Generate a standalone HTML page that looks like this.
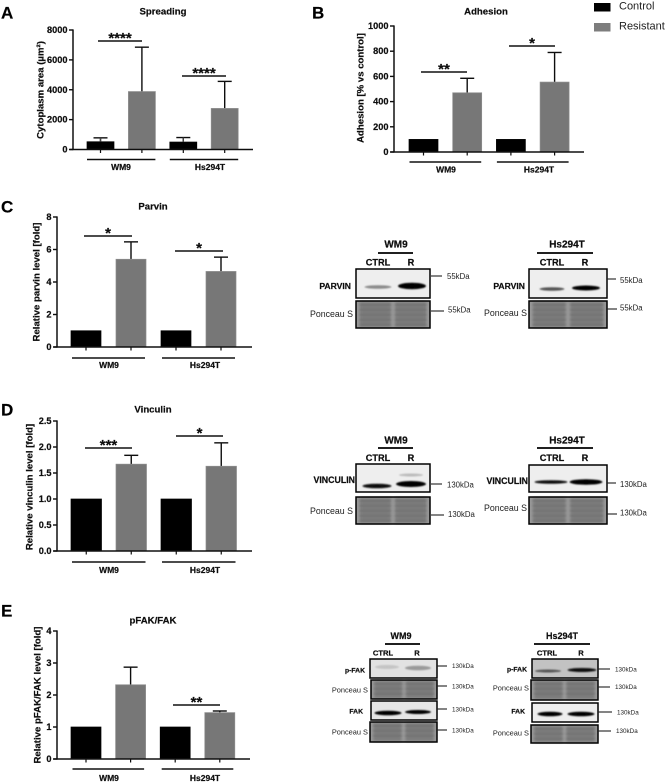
<!DOCTYPE html>
<html lang="en">
<head>
<meta charset="utf-8">
<title>Spreading, adhesion and protein levels</title>
<style>
html,body{margin:0;padding:0;background:#fff;width:669px;height:782px;overflow:hidden}
svg{display:block}
text{font-family:"Liberation Sans",sans-serif;fill:#111}
text[font-weight="bold"]{stroke:#111;stroke-width:0.22px}
</style>
</head>
<body>
<svg id="figure" xmlns="http://www.w3.org/2000/svg" width="669" height="782" viewBox="0 0 669 782">
  <defs>
    <filter id="soft" x="-2%" y="-2%" width="104%" height="104%"><feGaussianBlur stdDeviation="0.3"/></filter>
    <filter id="bandBlur" x="-30%" y="-150%" width="160%" height="400%"><feGaussianBlur stdDeviation="0.9"/></filter>
    <filter id="laneBlur" x="-20%" y="-20%" width="140%" height="140%"><feGaussianBlur stdDeviation="1.2"/></filter>
  </defs>
  <g id="root" filter="url(#soft)"></g>
</svg>
<script>
// ---------- chart data ----------
const groupLabels = ['WM9', 'Hs294T'];

const spreadingTicks = [0, 2000, 4000, 6000, 8000];
const spreadingControl = [520, 500];
const spreadingResistant = [3880, 2750];
const spreadingControlError = [780, 800];
const spreadingResistantError = [6850, 4560];
const spreadingStars = ['****', '****'];

const adhesionTicks = [0, 200, 400, 600, 800, 1000];
const adhesionControl = [100, 100];
const adhesionResistant = [470, 555];
const adhesionControlError = [100, 100];
const adhesionResistantError = [585, 790];
const adhesionStars = ['**', '*'];

const parvinTicks = [0, 2, 4, 6, 8];
const parvinControl = [1, 1];
const parvinResistant = [5.4, 4.65];
const parvinControlError = [1, 1];
const parvinResistantError = [6.47, 5.53];
const parvinStars = ['*', '*'];

const vinculinTicks = ['0.0', '0.5', '1.0', '1.5', '2.0', '2.5'];
const vinculinControl = [1, 1];
const vinculinResistant = [1.67, 1.63];
const vinculinControlError = [1, 1];
const vinculinResistantError = [1.84, 2.08];
const vinculinStars = ['***', '*'];

const pfakTicks = [0, 1, 2, 3, 4];
const pfakControl = [1, 1];
const pfakResistant = [2.32, 1.45];
const pfakControlError = [1, 1];
const pfakResistantError = [2.87, 1.5];
const pfakStars = ['', '**'];

const legendLabels = ['Control', 'Resistant'];

// ---------- helpers ----------
const SVGNS = 'http://www.w3.org/2000/svg';
const root = document.getElementById('root');

function make(parent, tag, attrs, content) {
  const el = document.createElementNS(SVGNS, tag);
  for (const k in attrs) el.setAttribute(k, attrs[k]);
  if (content !== undefined) el.textContent = content;
  parent.appendChild(el);
  return el;
}
function group(parent, name) {
  const g = make(parent, 'g', {});
  
  
  return g;
}
function line(parent, name, x1, y1, x2, y2, w, color) {
  const el = make(parent, 'line', {x1: x1, y1: y1, x2: x2, y2: y2, stroke: color || '#111', 'stroke-width': w || 1.3});
  
  
  return el;
}
function label(parent, name, x, y, str, size, weight, anchor, color) {
  const el = make(parent, 'text', {x: x, y: y, 'font-size': size, 'font-weight': weight || 'bold', 'text-anchor': anchor || 'middle', 'dominant-baseline': 'central'}, str);
  if (color) el.style.fill = color;
  
  
  return el;
}

// ---------- bar chart ----------
function drawChart(cfg) {
  const g = group(root, cfg.name + '-chart');
  const yScale = v => cfg.y0 - (parseFloat(v) / parseFloat(cfg.ticks[cfg.ticks.length - 1])) * (cfg.y0 - cfg.yTop);
  const xScale = i => cfg.x0 + i * cfg.step;

  label(g, cfg.name + '-panel-letter', cfg.letterX, cfg.letterY, cfg.letter, 17, 'bold', 'start', '#000');
  label(g, cfg.name + '-title', cfg.titleX, cfg.titleY, cfg.title, 9.6);
  const yt = label(g, cfg.name + '-y-axis-title', 0, 0, cfg.yTitle, 9.6);
  yt.setAttribute('transform', 'translate(' + cfg.yTitleX + ',' + cfg.yTitleY + ') rotate(-90)');

  // bars, whiskers, ticks
  for (let gi = 0; gi < groupLabels.length; gi++) {
    const sets = [
      {val: cfg.control[gi], err: cfg.controlErr[gi], fill: '#000', edge: '#000', kind: 'control'},
      {val: cfg.resistant[gi], err: cfg.resistantErr[gi], fill: '#777', edge: '#8e8e8e', kind: 'resistant'}
    ];
    sets.forEach((s, si) => {
      const left = xScale(gi * 2 + si);
      const mid = left + cfg.barW / 2;
      const top = yScale(s.val);
      if (s.err > s.val) {
        line(g, cfg.name + '-error-stem', mid, top, mid, yScale(s.err), 1.4);
        line(g, cfg.name + '-error-cap', mid - cfg.cap / 2, yScale(s.err), mid + cfg.cap / 2, yScale(s.err), 1.4);
      }
      const bar = make(g, 'rect', {x: left, y: top, width: cfg.barW, height: cfg.y0 - top, fill: s.fill, stroke: s.edge, 'stroke-width': 0.7});
      
      
      if (s.err > s.val && s.kind === 'control') {
        line(g, cfg.name + '-error-stem', mid, top, mid, yScale(s.err), 1.3, '#444');
      }
      line(g, cfg.name + '-x-tick', mid, cfg.y0, mid, cfg.y0 + 3.5, 1.2);
    });

    // group bracket + label
    const gl = xScale(gi * 2) + cfg.groupInset;
    const gr = xScale(gi * 2 + 1) + cfg.barW - cfg.groupInset;
    line(g, cfg.name + '-group-line', gl, cfg.groupY, gr, cfg.groupY, 1.4);
    label(g, cfg.name + '-group-label', cfg.groupLabelX[gi], cfg.groupLabelY, groupLabels[gi], 8.5);

    // significance
    if (cfg.stars[gi]) {
      const sx = cfg.sigX[gi];
      line(g, cfg.name + '-significance-line', sx, cfg.sigY[gi], sx + cfg.sigW, cfg.sigY[gi], 1.4);
      const st = make(g, 'text', {x: sx + cfg.sigW / 2, y: cfg.sigY[gi] + 2, 'font-size': 15, 'font-weight': 'bold', 'text-anchor': 'middle'}, cfg.stars[gi]);
      
      
    }
  }

  // axes
  line(g, cfg.name + '-y-axis', cfg.axisX, cfg.yTop - 0.6, cfg.axisX, cfg.y0 + 0.6, 1.5);
  line(g, cfg.name + '-x-axis', cfg.axisX - 3.5, cfg.y0, cfg.axisEnd, cfg.y0, 1.5);
  cfg.ticks.forEach(t => {
    const y = yScale(t);
    line(g, cfg.name + '-y-tick', cfg.axisX - 4, y, cfg.axisX, y, 1.4);
    label(g, cfg.name + '-y-tick-label', cfg.axisX - 5.5, y, String(t), 9.2, 'bold', 'end');
  });
}

drawChart({name: 'spreading', letter: 'A', letterX: 1, letterY: 13, title: 'Spreading', titleX: 163, titleY: 12,
  yTitle: 'Cytoplasm area (\u00b5m\u00b2)', yTitleX: 41, yTitleY: 90,
  ticks: spreadingTicks, control: spreadingControl, resistant: spreadingResistant,
  controlErr: spreadingControlError, resistantErr: spreadingResistantError, stars: spreadingStars,
  axisX: 73, axisEnd: 253, y0: 149.5, yTop: 30, x0: 87, step: 41.4, barW: 27, cap: 14,
  groupInset: 0, groupY: 159.5, groupLabelX: [121, 210], groupLabelY: 167,
  sigX: [98, 182], sigY: [41, 76], sigW: 44});

drawChart({name: 'adhesion', letter: 'B', letterX: 312, letterY: 13, title: 'Adhesion', titleX: 486, titleY: 12,
  yTitle: 'Adhesion [% vs control]', yTitleX: 361, yTitleY: 88,
  ticks: adhesionTicks, control: adhesionControl, resistant: adhesionResistant,
  controlErr: adhesionControlError, resistantErr: adhesionResistantError, stars: adhesionStars,
  axisX: 394, axisEnd: 584, y0: 152, yTop: 26, x0: 409, step: 43.7, barW: 29, cap: 14,
  groupInset: 0.5, groupY: 162, groupLabelX: [446, 539], groupLabelY: 169.5,
  sigX: [421, 509], sigY: [72, 46], sigW: 46});

drawChart({name: 'parvin', letter: 'C', letterX: 1, letterY: 207, title: 'Parvin', titleX: 153, titleY: 207,
  yTitle: 'Relative parvin level [fold]', yTitleX: 37, yTitleY: 282,
  ticks: parvinTicks, control: parvinControl, resistant: parvinResistant,
  controlErr: parvinControlError, resistantErr: parvinResistantError, stars: parvinStars,
  axisX: 57, axisEnd: 252, y0: 347, yTop: 217, x0: 71, step: 45, barW: 30, cap: 14,
  groupInset: 1, groupY: 358, groupLabelX: [109, 205], groupLabelY: 365,
  sigX: [84, 175], sigY: [236, 251], sigW: 48});

drawChart({name: 'vinculin', letter: 'D', letterX: 1, letterY: 410, title: 'Vinculin', titleX: 153, titleY: 410,
  yTitle: 'Relative vinculin level [fold]', yTitleX: 30, yTitleY: 487,
  ticks: vinculinTicks, control: vinculinControl, resistant: vinculinResistant,
  controlErr: vinculinControlError, resistantErr: vinculinResistantError, stars: vinculinStars,
  axisX: 57, axisEnd: 252, y0: 551, yTop: 421, x0: 71, step: 45, barW: 30.5, cap: 14,
  groupInset: 1, groupY: 562, groupLabelX: [109, 205], groupLabelY: 570,
  sigX: [85, 176], sigY: [448, 436], sigW: 47});

drawChart({name: 'pfak', letter: 'E', letterX: 1, letterY: 611, title: 'pFAK/FAK', titleX: 153, titleY: 621,
  yTitle: 'Relative pFAK/FAK level [fold]', yTitleX: 38, yTitleY: 695,
  ticks: pfakTicks, control: pfakControl, resistant: pfakResistant,
  controlErr: pfakControlError, resistantErr: pfakResistantError, stars: pfakStars,
  axisX: 57, axisEnd: 250, y0: 759, yTop: 631, x0: 71, step: 44.6, barW: 30, cap: 14,
  groupInset: 1.5, groupY: 769, groupLabelX: [109, 205], groupLabelY: 778,
  sigX: [173, 173], sigY: [705, 705], sigW: 47});

// ---------- legend ----------
const legend = group(root, 'legend');
legendLabels.forEach((name, i) => {
  const y = 3 + i * 20;
  const swatch = make(legend, 'rect', {x: 594, y: y, width: 16.5, height: 8.5, fill: i === 0 ? '#000' : '#7d7d7d'});
  
  
  label(legend, 'legend-label-' + name.toLowerCase(), 619, y + 3.5, name, 11, 'normal', 'start', '#222');
});

// ---------- western blots ----------
function blotFrame(parent, name, x1, y1, x2, y2, bg) {
  const r = make(parent, 'rect', {x: x1, y: y1, width: x2 - x1, height: y2 - y1, fill: bg});
  
  
}
function blotBorder(parent, name, x1, y1, x2, y2) {
  const r = make(parent, 'rect', {x: x1, y: y1, width: x2 - x1, height: y2 - y1, fill: 'none', stroke: '#000', 'stroke-width': 1.5});
  
  
}
function bandBlot(parent, name, x1, y1, x2, y2, bands, bg) {
  const g = group(parent, name);
  blotFrame(g, name + '-background', x1, y1, x2, y2, bg || '#eeeeee');
  bands.forEach(b => {
    const e = make(g, 'ellipse', {cx: b[0], cy: b[2], rx: b[1] / 2, ry: b[3] / 2, fill: b[4], filter: 'url(#bandBlur)'});
    
    
  });
  blotBorder(g, name + '-border', x1, y1, x2, y2);
}
function ponceau(parent, name, x1, y1, x2, y2) {
  const g = group(parent, name);
  blotFrame(g, name + '-background', x1, y1, x2, y2, '#989898');
  const w = x2 - x1;
  const laneW = w * 0.42;
  [x1 + w * 0.05, x1 + w * 0.53].forEach(lx => {
    const lane = make(g, 'rect', {x: lx, y: y1 + 1, width: laneW, height: y2 - y1 - 2, fill: '#7a7a7a', filter: 'url(#laneBlur)'});
    
    
    for (let yy = y1 + 3; yy < y2 - 2; yy += 5) {
      const s = make(g, 'rect', {x: lx, y: yy, width: laneW, height: 1.4, fill: '#6e6e6e', filter: 'url(#laneBlur)'});
      
      
    }
  });
  blotBorder(g, name + '-border', x1, y1, x2, y2);
}
function marker(parent, name, x1, x2, y, tx, ty, str, size) {
  line(parent, name + '-marker', x1, y, x2, y, 1.1, '#222');
  label(parent, name + '-size-label', tx, ty, str, size, 'normal', 'start', '#222');
}
function header(parent, name, title, cx, ty, lx1, lx2, ly, cX, rX, cY, size, ctrlSize) {
  label(parent, name + '-title', cx, ty, title, size);
  line(parent, name + '-line', lx1, ly, lx2, ly, 1.7, '#000');
  label(parent, name + '-ctrl-label', cX, cY, 'CTRL', ctrlSize);
  label(parent, name + '-r-label', rX, cY, 'R', ctrlSize);
}

// Parvin blots
const pw = group(root, 'parvin-blot-wm9');
header(pw, 'parvin-wm9', 'WM9', 396, 245, 378, 413, 253, 378, 411, 262.5, 10, 9.2);
label(pw, 'parvin-wm9-label', 351, 286, 'PARVIN', 8.6, 'bold', 'end');
label(pw, 'parvin-wm9-ponceau-label', 353, 314, 'Ponceau S', 8.8, 'normal', 'end', '#222');
bandBlot(pw, 'parvin-wm9-blot', 356, 269, 430, 298, [[378, 27, 287, 3.5, '#8a8a8a'], [412, 28, 286, 6.5, '#000']]);
ponceau(pw, 'parvin-wm9-ponceau', 356, 301, 430, 328);
marker(pw, 'parvin-wm9', 431, 442, 276, 447, 276.5, '55kDa', 7.8);
marker(pw, 'parvin-wm9-ponceau', 431, 444, 311, 448, 310, '55kDa', 7.8);

const ph = group(root, 'parvin-blot-hs294t');
header(ph, 'parvin-hs294t', 'Hs294T', 567, 245, 537, 593, 253, 552, 585, 262.5, 10, 9.2);
label(ph, 'parvin-hs294t-label', 525, 286, 'PARVIN', 8.6, 'bold', 'end');
label(ph, 'parvin-hs294t-ponceau-label', 527, 313, 'Ponceau S', 8.8, 'normal', 'end', '#222');
bandBlot(ph, 'parvin-hs294t-blot', 529, 269, 607, 298, [[552, 25, 289, 3.5, '#555'], [586, 28, 288, 5, '#000']]);
ponceau(ph, 'parvin-hs294t-ponceau', 529, 301, 607, 328);
marker(ph, 'parvin-hs294t', 607, 616, 279, 620, 280.5, '55kDa', 7.8);
marker(ph, 'parvin-hs294t-ponceau', 607, 617, 309, 620, 308, '55kDa', 7.8);

// Vinculin blots
const vw = group(root, 'vinculin-blot-wm9');
header(vw, 'vinculin-wm9', 'WM9', 396, 441, 378, 413, 448, 378, 411, 458, 10, 9.2);
label(vw, 'vinculin-wm9-label', 355, 480, 'VINCULIN', 8.8, 'bold', 'end');
label(vw, 'vinculin-wm9-ponceau-label', 353, 511, 'Ponceau S', 8.8, 'normal', 'end', '#222');
bandBlot(vw, 'vinculin-wm9-blot', 356, 464, 430, 492, [[377, 29, 486, 4.5, '#111'], [411, 30, 484, 6, '#000'], [411, 24, 475, 3, '#bbb']]);
ponceau(vw, 'vinculin-wm9-ponceau', 356, 497, 430, 524);
marker(vw, 'vinculin-wm9', 431, 442, 484, 447, 485, '130kDa', 7.8);
marker(vw, 'vinculin-wm9-ponceau', 431, 444, 515, 448, 514.5, '130kDa', 7.8);

const vh = group(root, 'vinculin-blot-hs294t');
header(vh, 'vinculin-hs294t', 'Hs294T', 567, 441, 537, 593, 448, 552, 585, 458, 10, 9.2);
label(vh, 'vinculin-hs294t-label', 528, 481, 'VINCULIN', 8.8, 'bold', 'end');
label(vh, 'vinculin-hs294t-ponceau-label', 527, 508, 'Ponceau S', 8.8, 'normal', 'end', '#222');
bandBlot(vh, 'vinculin-hs294t-blot', 529, 465, 607, 492, [[551, 33, 482, 3.6, '#111'], [586, 33, 482, 5.5, '#000']]);
ponceau(vh, 'vinculin-hs294t-ponceau', 529, 497, 607, 524);
marker(vh, 'vinculin-hs294t', 607, 616, 483, 620, 484.5, '130kDa', 7.8);
marker(vh, 'vinculin-hs294t-ponceau', 607, 617, 514, 620, 513, '130kDa', 7.8);

// pFAK blots
const fw = group(root, 'pfak-blot-wm9');
header(fw, 'pfak-wm9', 'WM9', 401, 636, 385, 420, 644, 383, 417, 653, 9, 7.6);
label(fw, 'pfak-wm9-pfak-label', 365, 671, 'p-FAK', 6.8, 'bold', 'end');
label(fw, 'pfak-wm9-ponceau-1-label', 368, 690, 'Ponceau S', 7.4, 'normal', 'end', '#222');
label(fw, 'pfak-wm9-fak-label', 363, 712, 'FAK', 6.8, 'bold', 'end');
label(fw, 'pfak-wm9-ponceau-2-label', 368, 732, 'Ponceau S', 7.4, 'normal', 'end', '#222');
bandBlot(fw, 'pfak-wm9-pfak-blot', 370, 659, 437, 678, [[387, 24, 667, 4, '#c4c4c4'], [418, 26, 668, 4.5, '#9a9a9a']], '#e2e2e2');
ponceau(fw, 'pfak-wm9-ponceau-1', 371, 680, 437, 699);
bandBlot(fw, 'pfak-wm9-fak-blot', 371, 701, 437, 720, [[388, 27, 713, 4.5, '#000'], [418, 26, 712, 4, '#000']], '#e6e6e6');
ponceau(fw, 'pfak-wm9-ponceau-2', 370, 722, 437, 742);
marker(fw, 'pfak-wm9-pfak', 437, 447, 666, 452, 666.5, '130kDa', 6.3);
marker(fw, 'pfak-wm9-ponceau-1', 437, 447, 686, 452, 687, '130kDa', 6.3);
marker(fw, 'pfak-wm9-fak', 437, 447, 709, 452, 710, '130kDa', 6.3);
marker(fw, 'pfak-wm9-ponceau-2', 437, 447, 730, 452, 731, '130kDa', 6.3);

const fh = group(root, 'pfak-blot-hs294t');
header(fh, 'pfak-hs294t', 'Hs294T', 562, 636, 534, 590, 644, 547, 581, 653, 9, 7.6);
label(fh, 'pfak-hs294t-pfak-label', 527, 670, 'p-FAK', 6.8, 'bold', 'end');
label(fh, 'pfak-hs294t-ponceau-1-label', 529, 688, 'Ponceau S', 7.4, 'normal', 'end', '#222');
label(fh, 'pfak-hs294t-fak-label', 525, 712, 'FAK', 6.8, 'bold', 'end');
label(fh, 'pfak-hs294t-ponceau-2-label', 529, 733, 'Ponceau S', 7.4, 'normal', 'end', '#222');
bandBlot(fh, 'pfak-hs294t-pfak-blot', 532, 659, 598, 678, [[548, 26, 671, 3, '#555'], [582, 29, 670, 4, '#111']], '#c2c2c2');
ponceau(fh, 'pfak-hs294t-ponceau-1', 531, 680, 598, 700);
bandBlot(fh, 'pfak-hs294t-fak-blot', 532, 703, 598, 722, [[550, 25, 714, 4.5, '#000'], [581, 27, 714, 4.5, '#000']], '#eeeeee');
ponceau(fh, 'pfak-hs294t-ponceau-2', 531, 725, 598, 743);
marker(fh, 'pfak-hs294t-pfak', 598, 610, 669, 615, 670, '130kDa', 6.3);
marker(fh, 'pfak-hs294t-ponceau-1', 598, 610, 687, 615, 687.5, '130kDa', 6.3);
marker(fh, 'pfak-hs294t-fak', 598, 612, 712, 617, 713, '130kDa', 6.3);
marker(fh, 'pfak-hs294t-ponceau-2', 598, 611, 731, 616, 731.5, '130kDa', 6.3);
</script>
</body>
</html>
